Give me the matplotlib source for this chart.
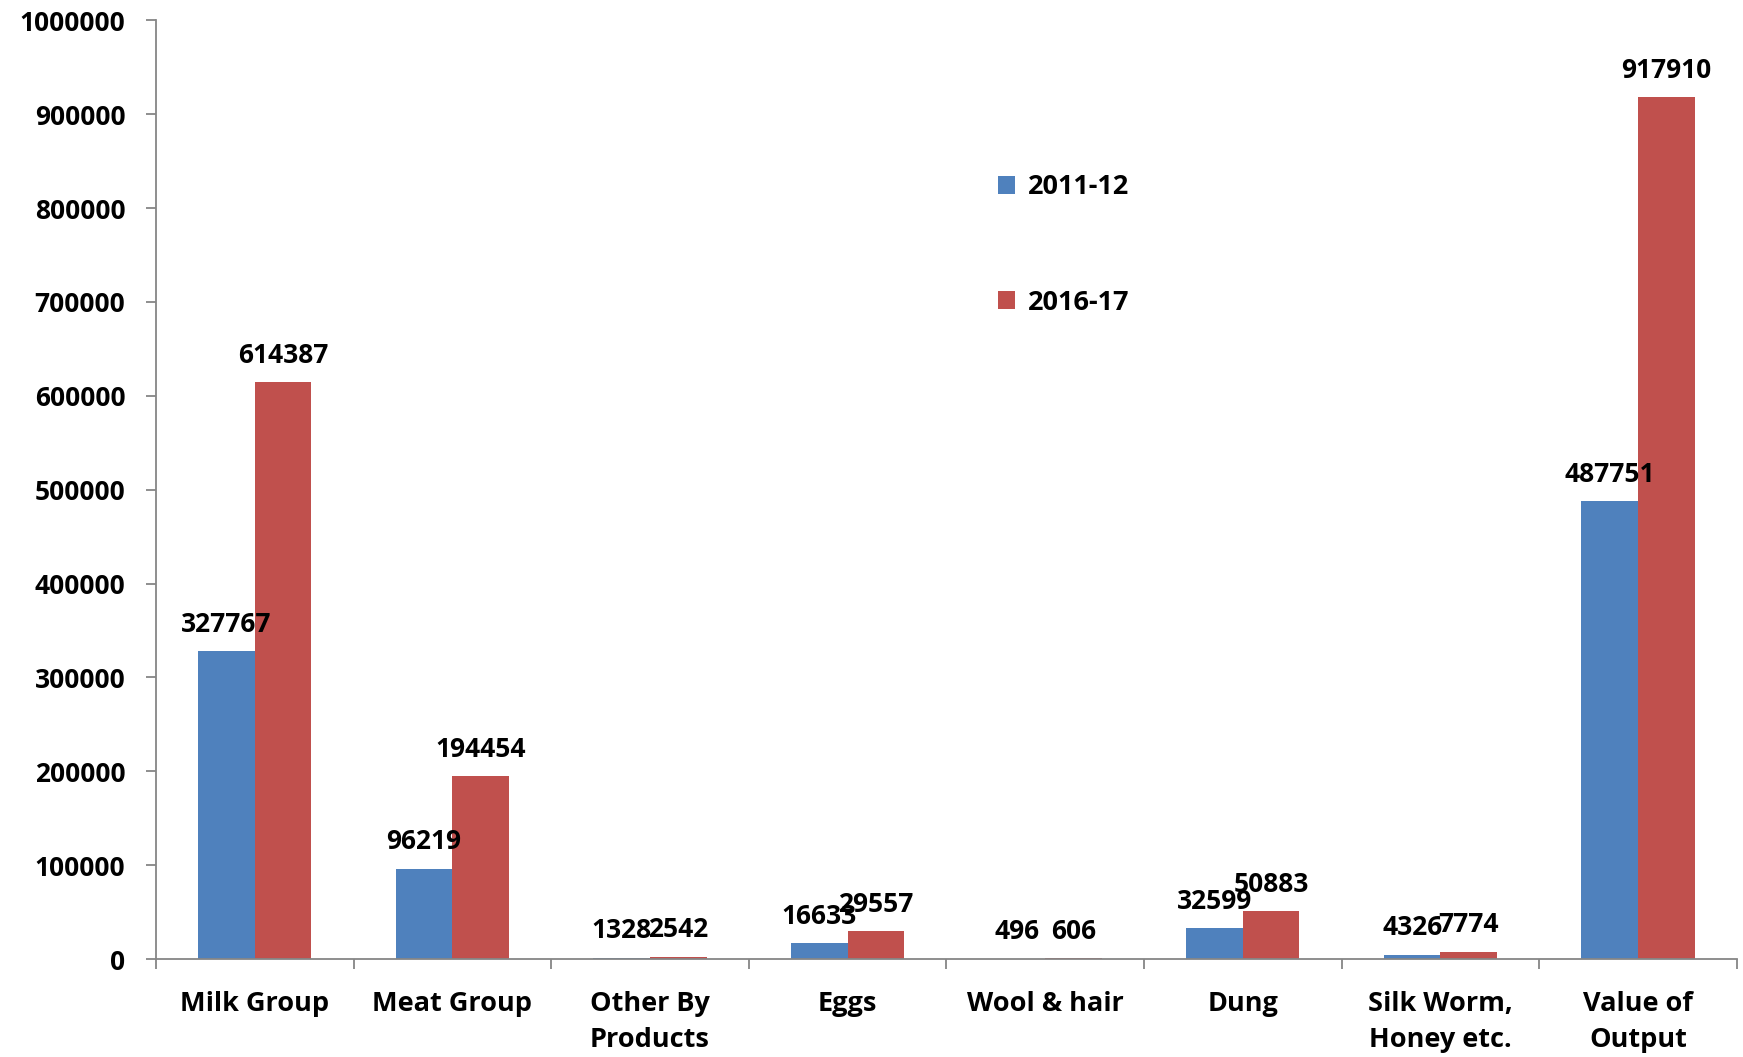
import matplotlib.pyplot as plt
import numpy as np

categories = ["Milk Group", "Meat Group", "Other By\nProducts", "Eggs",
              "Wool & hair", "Dung", "Silk Worm,\nHoney etc.", "Value of\nOutput"]
vals_2011 = [327767, 96219, 1328, 16633, 496, 32599, 4326, 487751]
vals_2016 = [614387, 194454, 2542, 29557, 606, 50883, 7774, 917910]
series_names = ["2011-12", "2016-17"]
yticks = [0, 100000, 200000, 300000, 400000, 500000, 600000, 700000, 800000, 900000, 1000000]

plt.rcParams["font.family"] = ["Open Sans", "DejaVu Sans"]
plt.rcParams["font.weight"] = "bold"

fig = plt.figure(figsize=(17.43, 10.57), dpi=100)
ax = fig.add_axes([0.0895, 0.0927, 0.907, 0.888])

x = np.arange(len(categories))
w = 0.2865
b1 = ax.bar(x - w / 2, vals_2011, w, color="#4F81BD", label=series_names[0])
b2 = ax.bar(x + w / 2, vals_2016, w, color="#C0504D", label=series_names[1])

# value labels above each bar
for bars, vals in ((b1, vals_2011), (b2, vals_2016)):
    for r, v in zip(bars, vals):
        ax.annotate(f"{v}", (r.get_x() + r.get_width() / 2, v),
                    xytext=(0, 19.5), textcoords="offset points",
                    ha="center", va="center", fontsize=19, fontweight="bold")

ax.set_xlim(-0.5, len(categories) - 0.5)
ax.set_ylim(0, 1000000)
ax.set_yticks(yticks)
ax.set_yticklabels([str(t) for t in yticks])

# category boundaries get the tick marks, names sit between them
ax.set_xticks(np.arange(len(categories) + 1) - 0.5)
ax.set_xticklabels([])
ax.set_xticks(x, minor=True)
ax.set_xticklabels(categories, minor=True, linespacing=1.5)
ax.tick_params(axis="x", which="major", length=7, width=1.3, color="#868686", direction="out")
ax.tick_params(axis="x", which="minor", length=0, pad=23, labelsize=19.5)
ax.tick_params(axis="y", length=7, width=1.3, color="#868686", direction="out", pad=15, labelsize=19)

for s in ("top", "right"):
    ax.spines[s].set_visible(False)
for s in ("left", "bottom"):
    ax.spines[s].set_color("#868686")
    ax.spines[s].set_linewidth(1.3)

for lab in ax.get_xticklabels(minor=True) + ax.get_yticklabels():
    lab.set_fontweight("bold")

ax.legend(loc="upper left", bbox_to_anchor=(0.517, 0.862), frameon=False,
          handlelength=0.65, handleheight=0.65, handletextpad=0.45,
          labelspacing=3.3, prop={"weight": "bold", "size": 19.5})

fig.savefig("out.png", dpi=100)
